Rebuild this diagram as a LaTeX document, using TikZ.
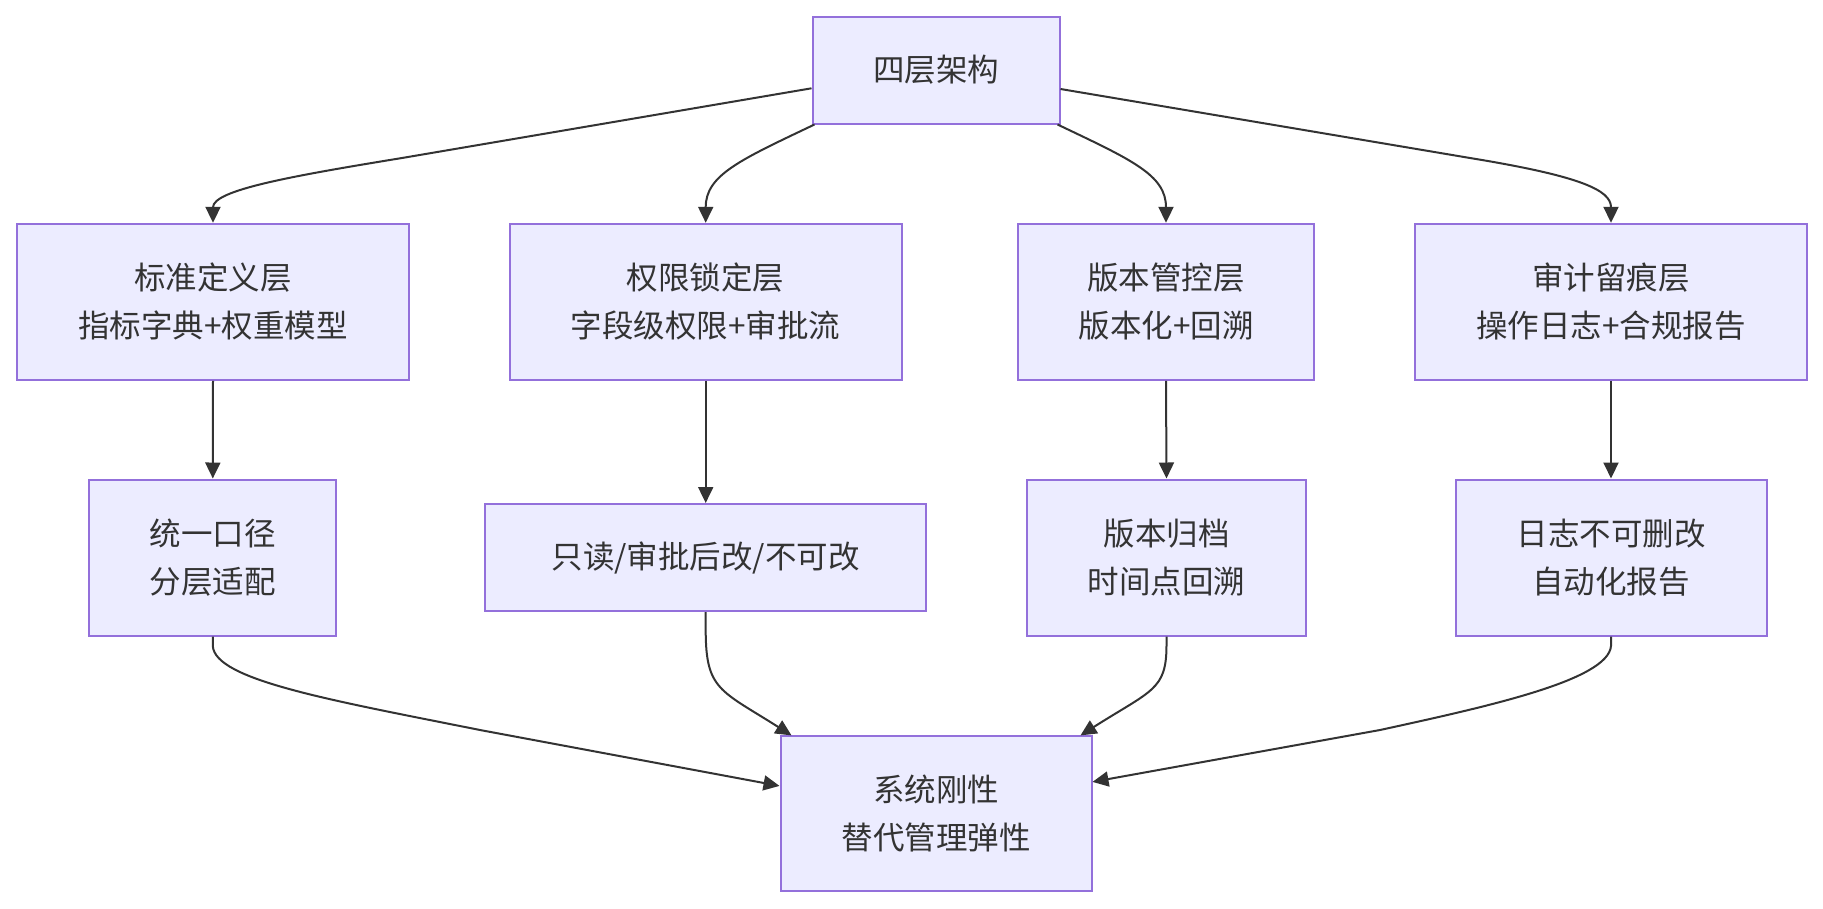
\documentclass[tikz,border=0pt]{standalone}
\usepackage{fontspec}
\newfontfamily\cjk{Noto Sans CJK SC}
\usetikzlibrary{arrows.meta}
\definecolor{boxfill}{HTML}{ECECFF}
\definecolor{boxline}{HTML}{9370DB}
\definecolor{ink}{HTML}{333333}
\tikzset{
  box/.style={draw=boxline, fill=boxfill, line width=2pt, text=ink,
    font=\cjk\fontsize{31.5}{48}\selectfont, align=center, inner sep=0pt,
    rectangle},
  link/.style={draw=ink, line width=2pt,
    -{Triangle[length=16pt,width=15pt]}},
}
\begin{document}
\begin{tikzpicture}[x=1pt,y=-1pt]
\useasboundingbox (0,0) rectangle (1823,908);

\node[box, minimum width=247pt, minimum height=107pt] (top) at (936,70) {四层架构};

\node[box, minimum width=392pt, minimum height=156pt] (A) at (213,301.8) {标准定义层\\指标字典+权重模型};
\node[box, minimum width=392pt, minimum height=156pt] (B) at (705.7,301.8) {权限锁定层\\字段级权限+审批流};
\node[box, minimum width=296pt, minimum height=156pt] (C) at (1166,301.8) {版本管控层\\版本化+回溯};
\node[box, minimum width=391.5pt, minimum height=156pt] (D) at (1611,301.8) {审计留痕层\\操作日志+合规报告};

\node[box, minimum width=247pt, minimum height=156pt] (A2) at (212.8,557.5) {统一口径\\分层适配};
\node[box, minimum width=441pt, minimum height=107pt] (B2) at (705.7,557.5) {只读/审批后改/不可改};
\node[box, minimum width=279pt, minimum height=156pt] (C2) at (1166.5,557.5) {版本归档\\时间点回溯};
\node[box, minimum width=311pt, minimum height=156pt] (D2) at (1611,557.5) {日志不可删改\\自动化报告};

\node[box, minimum width=311pt, minimum height=155pt] (bot) at (936,813.9) {系统刚性\\替代管理弹性};

% top to layers
\draw[link] ([yshift=-18.3pt]top.west) -- (402,158) .. controls (292,176) and (213,190) .. (A.north);
\draw[link] ([xshift=3pt]top.south west) .. controls (740,160) and (705.7,175) .. (B.north);
\draw[link] ([xshift=-3pt]top.south east) .. controls (1132,160) and (1166,175) .. (C.north);
\draw[link] ([yshift=-19pt]top.east) -- (1470,158) .. controls (1580,176) and (1611,190) .. (D.north);

% layers to results
\draw[link] (A.south) -- (A2.north);
\draw[link] (B.south) -- (B2.north);
\draw[link] (C.south) -- (C2.north);
\draw[link] (D.south) -- (D2.north);

% results to bottom
\draw[link] (A2.south) -- (212.8,646) .. controls (215,680) and (330,700) .. (480,730) -- ([yshift=28pt]bot.west);
\draw[link] (B2.south) -- (705.7,630) .. controls (705.7,690) and (720,690) .. ([xshift=12pt]bot.north west);
\draw[link] (C2.south) -- (1166.5,645) .. controls (1166.5,690) and (1152,690) .. ([xshift=-12pt]bot.north east);
\draw[link] (D2.south) -- (1611,646) .. controls (1608,680) and (1490,706) .. (1380,730) -- ([yshift=32pt]bot.east);
\end{tikzpicture}
\end{document}
